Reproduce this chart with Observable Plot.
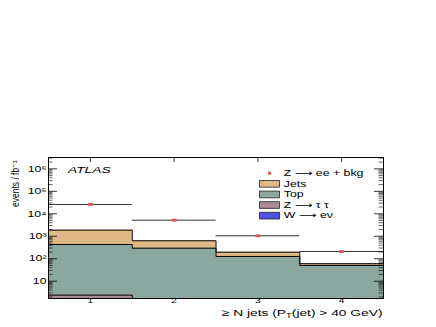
<!DOCTYPE html>
<html><head><meta charset="utf-8">
<script src="https://cdn.jsdelivr.net/npm/d3@7"></script>
<script src="https://cdn.jsdelivr.net/npm/@observablehq/plot@0.6"></script>
<style>body{margin:0;background:#fff}</style>
</head><body><div id="chart"></div>
<script>
// ---- data ----
const bins = [1, 2, 3, 4];
const binLabels = ["1", "2", "3", "4"];
const dataValues = [26000, 5200, 1050, 210];       // Z -> ee + bkg
const wenu = [0.3, 0.1, 0.05, 0.02];                // W -> e nu
const ztautau = [2.1, 0.5, 0.2, 0.08];              // Z -> tau tau
const topVals = [429, 294, 126, 50];                // Top
const jets = [1440, 335, 69, 10];                   // Jets
const seriesNames = ["W ⟶ eν", "Z ⟶ τ τ", "Top", "Jets"]; // stack order, bottom to top
const seriesColors = ["#5252e0", "#a98b93", "#8ba79f", "#deb887"];
const legendLabels = ["Z ⟶ ee + bkg", "Jets", "Top", "Z ⟶ τ τ", "W ⟶ eν"];
const legendColors = ["#e05a5a", "#deb887", "#8ba79f", "#a98b93", "#5252e0"];
const yTickValues = [10, 100, 1e3, 1e4, 1e5, 1e6];
const yTickLabels = ["10", "10²", "10³", "10⁴", "10⁵", "10⁶"];
const yDomain = [1.7, 3.2e6];
const xDomain = [0.5, 4.5];
const xTitle = "≥ N jets (P_T(jet) > 40 GeV)";
const yTitle = "events / fb⁻¹";

// ---- layout ----
const W = 436, H = 327;
const mL = 48, mR = 53, mT = 157, mB = 29;
const innerW = W - mL - mR, innerH = H - mT - mB;
const font = "'Liberation Sans', Arial, Helvetica, 'DejaVu Sans', sans-serif";

// ---- stacking ----
const layers = [wenu, ztautau, topVals, jets];
let acc = bins.map(() => 0);
const stacked = layers.map((vals, i) => {
  acc = acc.map((a, j) => a + vals[j]);
  return {name: seriesNames[i], color: seriesColors[i], cum: acc.slice()};
});
const edges = [...bins.map(b => b - 0.5), bins[bins.length - 1] + 0.5];

const histMarks = stacked.slice().reverse().flatMap(s => {
  const steps = edges.map((e, j) => ({x: e, y: s.cum[Math.min(j, bins.length - 1)]}));
  return [
    Plot.areaY(steps, {x: "x", y1: yDomain[0], y2: "y", curve: "step-after", fill: s.color, fillOpacity: 1, clip: true}),
    Plot.line(steps, {x: "x", y: "y", curve: "step-after", stroke: "#000", strokeWidth: 1, clip: true})
  ];
});

const dataRows = bins.map((b, j) => ({x: b, x1: b - 0.5, x2: b + 0.5, y: dataValues[j]}));

const markerSymbol = {draw(ctx) { ctx.rect(-2.3, -1.5, 4.6, 3); }};
const legendMarker = {draw(ctx) { ctx.rect(-1.6, -1.5, 3.2, 3); }};
const boxSymbol = {draw(ctx) { ctx.rect(-10, -3.3, 20, 6.7); }};

const minorTicks = d3.scaleLog().domain(yDomain).ticks().filter(v => v >= yDomain[0] && v <= yDomain[1] && !yTickValues.includes(v));

const legendMarks = legendLabels.flatMap((lab, i) => {
  const dy = 15.7 + i * 10.6;
  const sym = i === 0
    ? Plot.dot([lab], {frameAnchor: "top-left", dx: 221, dy, symbol: legendMarker, fill: legendColors[i], stroke: "none"})
    : Plot.dot([lab], {frameAnchor: "top-left", dx: 221, dy, symbol: boxSymbol, fill: legendColors[i], stroke: "#222", strokeWidth: 0.8});
  return [sym, Plot.text([lab], {frameAnchor: "top-left", dx: 235.3, dy, text: d => d, textAnchor: "start", lineAnchor: "middle", fontSize: 8.5, fill: "#000"})];
});

const chart = Plot.plot({
  width: W, height: H,
  marginLeft: mL, marginRight: mR, marginTop: mT, marginBottom: mB,
  style: {fontFamily: font, background: "#fff", color: "#000"},
  x: {domain: xDomain},
  y: {type: "log", domain: yDomain},
  marks: [
    ...histMarks,
    Plot.ruleY(dataRows, {y: "y", x1: "x1", x2: "x2", stroke: "#333", strokeWidth: 1}),
    Plot.dot(dataRows, {x: "x", y: "y", symbol: markerSymbol, fill: "#e05a5a", stroke: "none"}),
    // inside ticks (ROOT style)
    Plot.tickY(yTickValues, {y: d => d, insetRight: innerW - 9, stroke: "#000", strokeWidth: 0.8}),
    Plot.tickY(minorTicks, {y: d => d, insetRight: innerW - 4.5, stroke: "#000", strokeWidth: 0.6}),
    Plot.tickY(yTickValues, {y: d => d, insetLeft: innerW - 9, stroke: "#000", strokeWidth: 0.8}),
    Plot.tickY(minorTicks, {y: d => d, insetLeft: innerW - 4.5, stroke: "#000", strokeWidth: 0.6}),
    Plot.tickX(bins, {x: d => d, insetBottom: innerH - 5, stroke: "#000", strokeWidth: 0.8}),
    Plot.axisY({ticks: yTickValues, tickSize: 0, tickPadding: 2, fontSize: 8.5,
      tickFormat: d => yTickLabels[yTickValues.indexOf(d)], label: null}),
    Plot.axisX({ticks: bins, tickSize: 0, tickPadding: 0, fontSize: 7,
      tickFormat: d => binLabels[bins.indexOf(d)], label: null}),
    Plot.text(["ATLAS"], {frameAnchor: "top-left", dx: 19.5, dy: 12.5, text: d => d, textAnchor: "start", lineAnchor: "middle", fontSize: 9.5, fontStyle: "italic", fill: "#000"}),
    ...legendMarks,
    Plot.text([xTitle], {frameAnchor: "bottom-right", dx: -1, dy: 14, text: d => d, textAnchor: "end", lineAnchor: "middle", fontSize: 9.5, fill: "#000"}),
    Plot.text([yTitle], {frameAnchor: "top-left", dx: -30, dy: 3, text: d => d, rotate: -90, textAnchor: "end", lineAnchor: "bottom", fontSize: 8.5, fill: "#000"}),
    Plot.frame({stroke: "#000", strokeWidth: 1})
  ]
});

document.getElementById("chart").appendChild(chart);

// subscript T in the x title
chart.querySelectorAll("text").forEach(t => {
  if (t.textContent.includes("P_T")) {
    const [a, b] = t.textContent.split("P_T");
    const ns = "http://www.w3.org/2000/svg";
    t.textContent = "";
    const s1 = document.createElementNS(ns, "tspan"); s1.textContent = a + "P";
    const s2 = document.createElementNS(ns, "tspan"); s2.textContent = "T"; s2.setAttribute("dy", "2.5"); s2.setAttribute("font-size", "6.5");
    const s3 = document.createElementNS(ns, "tspan"); s3.textContent = b; s3.setAttribute("dy", "-2.5");
    t.append(s1, s2, s3);
  }
});

// the reference's lettering is horizontally stretched; reproduce that
const K = 1.45;
chart.querySelectorAll("text").forEach(t => {
  const tr = t.getAttribute("transform") || "";
  if (!tr && (t.hasAttribute("x") || t.hasAttribute("y"))) {
    const x = +t.getAttribute("x") || 0, y = +t.getAttribute("y") || 0;
    t.removeAttribute("x"); t.removeAttribute("y");
    t.setAttribute("transform", `translate(${x},${y}) scale(${K},1)`);
  } else if (/rotate/.test(tr)) {
    t.setAttribute("transform", tr + " scale(1,1.2)");
  } else {
    t.setAttribute("transform", tr + ` scale(${K},1)`);
  }
});
</script>
</body></html>
